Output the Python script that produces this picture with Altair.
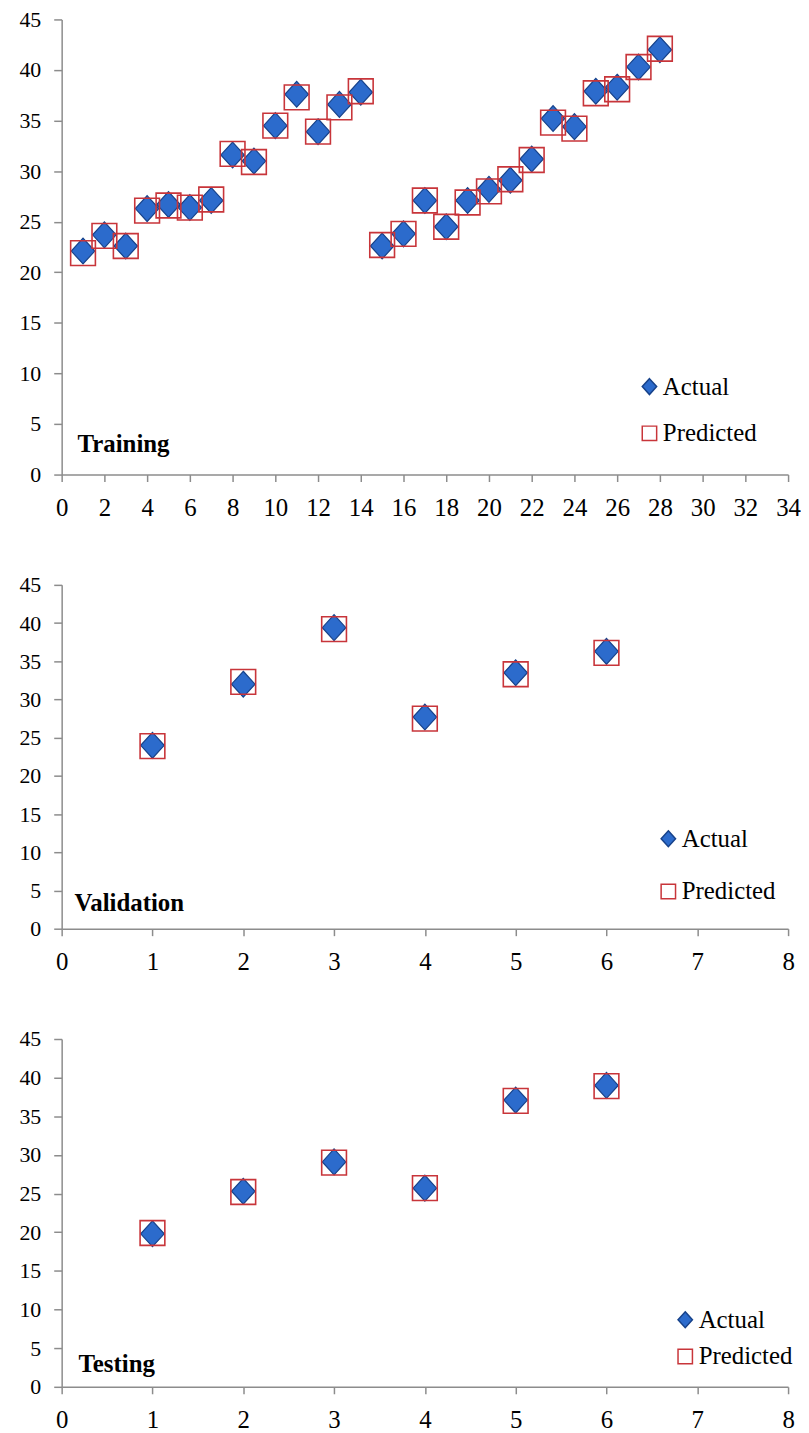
import altair as alt
import pandas as pd

# ---- data ----
train_x = list(range(1, 29))
train_actual = [22.1, 23.7, 22.6, 26.3, 26.7, 26.4, 27.1, 31.6, 31.0, 34.5, 37.6, 33.9, 36.6, 37.8,
                22.6, 23.8, 27.1, 24.5, 27.1, 28.2, 29.1, 31.2, 35.2, 34.4, 37.9, 38.3, 40.3, 42.0]
train_pred = [21.9, 23.6, 22.6, 26.1, 26.6, 26.4, 27.2, 31.7, 30.9, 34.5, 37.3, 33.9, 36.3, 37.9,
              22.7, 23.8, 27.1, 24.5, 26.9, 28.0, 29.2, 31.1, 34.8, 34.2, 37.7, 38.1, 40.3, 42.1]

val_x = [1, 2, 3, 4, 5, 6]
val_actual = [24.0, 32.0, 39.4, 27.7, 33.5, 36.3]
val_pred = [23.9, 32.3, 39.2, 27.5, 33.3, 36.1]

test_x = [1, 2, 3, 4, 5, 6]
test_actual = [19.8, 25.3, 29.1, 25.7, 37.1, 39.0]
test_pred = [19.9, 25.2, 29.0, 25.7, 37.0, 38.9]

series_names = ["Actual", "Predicted"]
y_ticks = [0, 5, 10, 15, 20, 25, 30, 35, 40, 45]
train_ticks = list(range(0, 35, 2))
small_ticks = [0, 1, 2, 3, 4, 5, 6, 7, 8]

FONT = "Liberation Serif"
BLUE = "#2c6bcc"
BLUE_EDGE = "#17428a"
RED = "#c8353a"
DIAMOND = "M0,-1.1L1,0L0,1.1L-1,0Z"


def panel(xs, actual, pred, xmax, ticks, height, label, lx, ly, rowpad, tx, ty):
    df_a = pd.DataFrame({"idx": xs, "value": actual, "series": series_names[0]})
    df_p = pd.DataFrame({"idx": xs, "value": pred, "series": series_names[1]})
    leg = alt.Legend(title=None, orient="none", legendX=lx, legendY=ly,
                     rowPadding=rowpad, labelFont=FONT, labelFontSize=25,
                     labelColor="black", symbolSize=210, symbolStrokeWidth=1.5,
                     labelOffset=1)
    enc = dict(
        x=alt.X("idx:Q", scale=alt.Scale(domain=[0, xmax], nice=False, zero=False),
                axis=alt.Axis(values=ticks, title=None, labelFlush=False,
                              labelOverlap=False, grid=False, labelFont=FONT)),
        y=alt.Y("value:Q", scale=alt.Scale(domain=[0, 45], nice=False),
                axis=alt.Axis(values=y_ticks, title=None, grid=False, labelFont=FONT)),
        shape=alt.Shape("series:N", scale=alt.Scale(domain=series_names,
                                                    range=[DIAMOND, "square"]), legend=leg),
        fill=alt.Fill("series:N", scale=alt.Scale(domain=series_names,
                                                  range=[BLUE, "transparent"]), legend=leg),
        stroke=alt.Stroke("series:N", scale=alt.Scale(domain=series_names,
                                                      range=[BLUE_EDGE, RED]), legend=leg),
    )
    act = alt.Chart(df_a).mark_point(opacity=1, size=560, strokeWidth=1.2).encode(**enc)
    prd = alt.Chart(df_p).mark_point(opacity=1, size=620, strokeWidth=1.6).encode(**enc)
    txt = alt.Chart(pd.DataFrame({"t": [label]})).mark_text(
        font=FONT, fontSize=25, fontWeight="bold", align="left",
        baseline="alphabetic", color="black"
    ).encode(text="t:N", x=alt.value(tx), y=alt.value(ty))
    return alt.layer(act, prd, txt).properties(width=731, height=height)


p1 = panel(train_x, train_actual, train_pred, 34, train_ticks, 458, "Training",
           579, 357, 21, 16, 435)
p2 = panel(val_x, val_actual, val_pred, 8, small_ticks, 346, "Validation",
           598, 243, 27, 13, 328)
p3 = panel(test_x, test_actual, test_pred, 8, small_ticks, 350, "Testing",
           615, 270, 11, 17, 335)

chart = alt.vconcat(p1, p2, p3, spacing=54).resolve_scale(
    x="independent", shape="independent", fill="independent", stroke="independent"
).resolve_legend(
    shape="independent", fill="independent", stroke="independent"
).properties(
    padding={"top": -4, "left": 11, "right": 0, "bottom": 0}
).configure(
    font=FONT
).configure_axis(
    domainColor="#8c8c8c", domainWidth=1.5, tickColor="#8c8c8c", tickWidth=1.5,
    labelFont=FONT, labelColor="black", grid=False
).configure_axisY(
    labelFontSize=22, tickSize=8, labelPadding=13
).configure_axisX(
    labelFontSize=25, tickSize=7, labelPadding=14
).configure_legend(
    labelFont=FONT
).configure_view(stroke=None)

chart.save("out.html", embed_options={"renderer": "svg", "actions": False})
